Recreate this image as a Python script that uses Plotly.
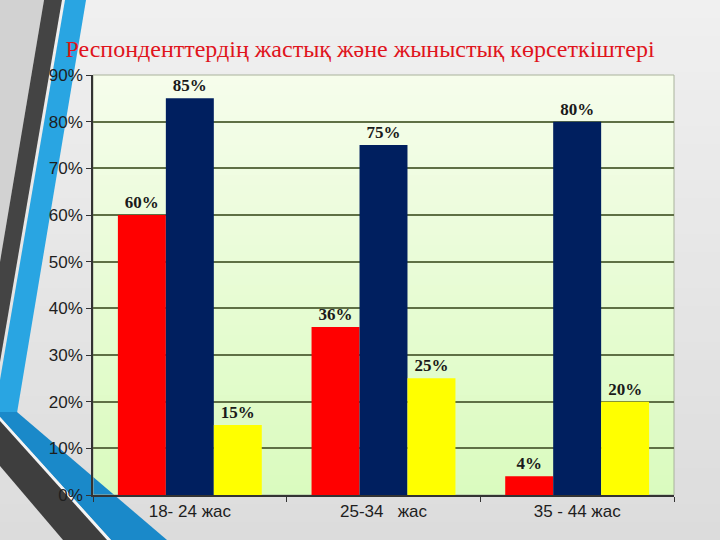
import plotly.graph_objects as go

# ---- data ----
categories = ["18- 24 жас", "25-34\u00a0\u00a0\u00a0жас", "35 - 44 жас"]
series_red = [0.60, 0.36, 0.04]
series_navy = [0.85, 0.75, 0.80]
series_yellow = [0.15, 0.25, 0.20]
y_ticks = [0, 0.1, 0.2, 0.3, 0.4, 0.5, 0.6, 0.7, 0.8, 0.9]
title_text = "Респонденттердің жастық және жыныстық көрсеткіштері"

W, H = 720, 540
ML, MR, MT, MB = 93, 46, 75, 45
PW, PH = W - ML - MR, H - MT - MB


def px(x, y):
    """pixel -> paper coords"""
    return (x - ML) / PW, (H - MB - y) / PH


def path(points):
    pts = [px(x, y) for x, y in points]
    s = "M " + " L ".join(f"{a:.4f},{b:.4f}" for a, b in pts) + " Z"
    return s


fig = go.Figure()
label_font = dict(family="Liberation Serif", size=17, color="#1a1a1a")
for vals, col in [(series_red, "#ff0000"), (series_navy, "#001f5f"), (series_yellow, "#ffff00")]:
    fig.add_trace(go.Bar(
        x=categories, y=vals, marker=dict(color=col, line=dict(width=0)),
        texttemplate="<b>%{y:.0%}</b>", textposition="outside",
        textfont=label_font, cliponaxis=False, showlegend=False,
    ))

shapes = []
# slide background vertical gradient
m = 30
ptop = (240, 240, 240)
pbot = (220, 220, 220)
for i in range(m):
    t = (i + 0.5) / m
    c = tuple(round(ptop[k] + (pbot[k] - ptop[k]) * t) for k in range(3))
    y0p = H * i / m
    y1p = H * (i + 1) / m + 1
    shapes.append(dict(type="rect", xref="paper", yref="paper", layer="below",
                       x0=px(0, 0)[0], x1=px(W, 0)[0], y0=px(0, y1p)[1], y1=px(0, y0p)[1],
                       fillcolor=f"rgb{c}", line=dict(width=0)))

# plot area vertical gradient
n = 42
top = (246, 253, 236)
bot = (218, 251, 190)
for i in range(n):
    t = (i + 0.5) / n
    c = tuple(round(bot[k] + (top[k] - bot[k]) * t) for k in range(3))
    shapes.append(dict(type="rect", xref="x domain", yref="y domain",
                       x0=0, x1=1, y0=i / n, y1=(i + 1) / n,
                       fillcolor=f"rgb{c}", line=dict(width=0), layer="below"))

# slide decorations (left side)
shapes.append(dict(type="path", xref="paper", yref="paper", layer="below",
                   path=path([(0, 0), (44, 0), (0, 262)]),
                   fillcolor="#d2d2d2", line=dict(width=0)))
shapes.append(dict(type="path", xref="paper", yref="paper", layer="below",
                   path=path([(44, 0), (62, 0), (0, 362), (0, 262)]),
                   fillcolor="#444444", line=dict(width=0)))
shapes.append(dict(type="path", xref="paper", yref="paper", layer="below",
                   path=path([(65, 0), (86, 0), (17, 413), (0, 413), (0, 380)]),
                   fillcolor="#29a5e2", line=dict(width=0)))
shapes.append(dict(type="path", xref="paper", yref="paper", layer="below",
                   path=path([(0, 412), (17, 412), (167, 540), (111, 540), (0, 417)]),
                   fillcolor="#1a89c9", line=dict(width=0)))
shapes.append(dict(type="path", xref="paper", yref="paper", layer="below",
                   path=path([(0, 417), (111, 540), (107, 540), (0, 421)]),
                   fillcolor="#f4f4f4", line=dict(width=0)))
shapes.append(dict(type="path", xref="paper", yref="paper", layer="below",
                   path=path([(0, 421), (107, 540), (63, 540), (0, 466)]),
                   fillcolor="#3e3e3e", line=dict(width=0)))
# plot area border (top/right light)
shapes.append(dict(type="rect", xref="x domain", yref="y domain", x0=0, x1=1, y0=0, y1=1,
                   line=dict(color="#a9b29c", width=1), fillcolor="rgba(0,0,0,0)", layer="below"))

fig.update_layout(
    width=W, height=H,
    margin=dict(l=ML, r=MR, t=MT, b=MB),
    paper_bgcolor="#ececec",
    plot_bgcolor="rgb(232,252,214)",
    barmode="group", bargap=0.257, bargroupgap=0,
    shapes=shapes,
    title=dict(text=title_text, x=0.5, xanchor="center", y=1 - 49 / H, yanchor="middle",
               font=dict(family="Liberation Serif", size=24, color="#e0141c")),
    xaxis=dict(type="category", showgrid=False, showline=True, linecolor="#333333", linewidth=1.5,
               ticks="outside", tickson="boundaries", ticklen=5, tickcolor="#333333",
               tickfont=dict(family="Liberation Sans", size=17, color="#1e1e1e")),
    yaxis=dict(range=[0, 0.9], tickvals=y_ticks, tickformat=".0%",
               showgrid=True, gridcolor="#5f7045", gridwidth=1.5,
               showline=True, linecolor="#333333", linewidth=1.5,
               ticks="outside", ticklen=5, tickcolor="#333333",
               tickfont=dict(family="Liberation Sans", size=17, color="#1e1e1e"),
               zeroline=False),
)

fig.write_html("out.html")
